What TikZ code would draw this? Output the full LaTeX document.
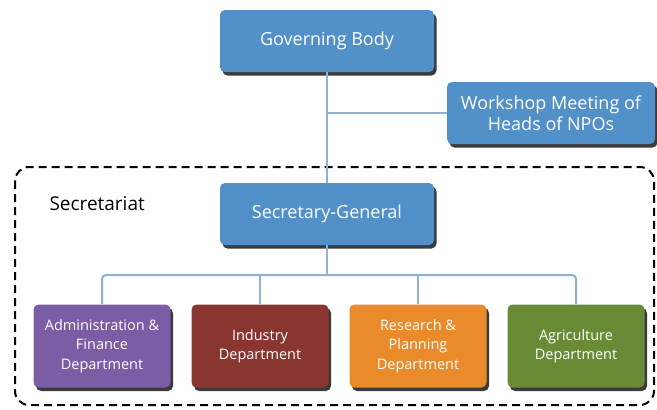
\documentclass[tikz,border=0pt]{standalone}
\usepackage{fontspec}
\setmainfont{Open Sans}
\usetikzlibrary{shadows}
\definecolor{boxblue}{HTML}{5290C9}
\definecolor{linkblue}{HTML}{8FB2D3}
\definecolor{adminpurple}{HTML}{7B5DA6}
\definecolor{indbrown}{HTML}{8A3630}
\definecolor{resorange}{HTML}{E98B2A}
\definecolor{agrgreen}{HTML}{6A8B35}
\begin{document}
\begin{tikzpicture}[x=1pt,y=-1pt,
  orgbox/.style={rounded corners=5pt, text=white, align=center, inner sep=0pt,
    drop shadow={shadow xshift=2.5pt, shadow yshift=-3.5pt, opacity=0.9, fill=black!85}},
  topbox/.style={orgbox, fill=boxblue, minimum width=214pt, minimum height=62pt, font=\fontsize{18}{21}\selectfont},
  deptbox/.style={orgbox, minimum width=137pt, minimum height=83pt, font=\fontsize{14.5}{19.5}\selectfont},
  link/.style={draw=linkblue, line width=2pt, rounded corners=4pt},
  secframe/.style={draw=black, line width=2pt, dash pattern=on 8pt off 5pt, rounded corners=14pt}
]
\useasboundingbox (0,0) rectangle (657,410);
\draw[secframe] (15,167) rectangle (654,405);
\node[anchor=west, font=\fontsize{19}{22}\selectfont] (sec) at (46,204) {Secretariat};

\node[topbox] (gb) at (327,41) {Governing Body};
\node[topbox, minimum width=208pt, minimum height=62pt] (ws) at (551,113) {Workshop Meeting of\\Heads of NPOs};
\node[topbox] (sg) at (327,214) {Secretary-General};

\node[deptbox, fill=adminpurple] (ad) at (102,346) {Administration \&\\Finance\\Department};
\node[deptbox, fill=indbrown] (in) at (260,346) {Industry\\Department};
\node[deptbox, fill=resorange] (re) at (418,346) {Research \&\\Planning\\Department};
\node[deptbox, fill=agrgreen] (ag) at (576,346) {Agriculture\\Department};

\coordinate (j1) at (327,113);
\coordinate (bus) at (327,275);

\draw[link] (gb.south) -- (sg.north);
\draw[link] (j1) -- (ws.west);
\draw[link] (sg.south) -- (bus);
\draw[link] (ad.north) -- (ad.north |- bus) -- (ag.north |- bus) -- (ag.north);
\draw[link] (in.north |- bus) -- (in.north);
\draw[link] (re.north |- bus) -- (re.north);
\end{tikzpicture}
\end{document}
